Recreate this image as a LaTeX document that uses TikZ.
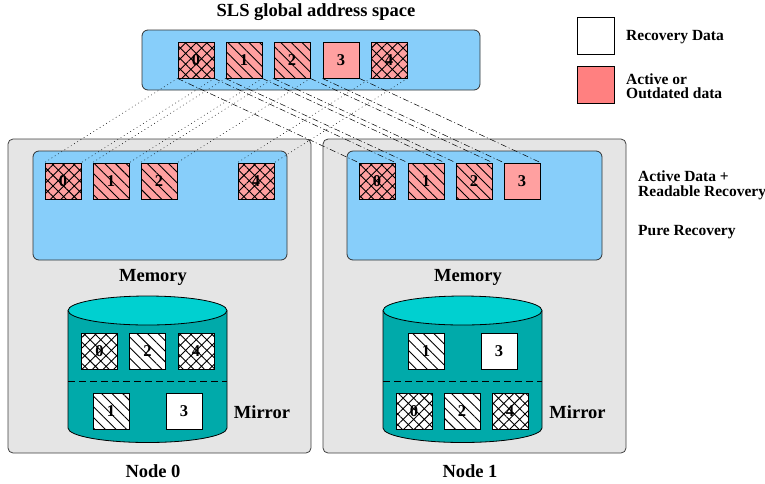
\documentclass[tikz,border=0pt]{standalone}
\usepackage{fontspec}
\setmainfont{Liberation Serif}
\usetikzlibrary{patterns.meta}
\definecolor{memblue}{RGB}{135,206,250}
\definecolor{nodegray}{RGB}{229,229,229}
\definecolor{pinkc}{RGB}{255,160,160}
\definecolor{legred}{RGB}{255,128,128}
\definecolor{cylbody}{RGB}{0,170,170}
\definecolor{cyltop}{RGB}{0,208,208}
\begin{document}
\begin{tikzpicture}[x=1pt,y=-1pt,
  blk/.style={draw=black, line width=0.9pt, minimum size=36pt, inner sep=0pt,
    font=\fontsize{16.5}{16.5}\selectfont\bfseries},
  act/.style={blk, fill=pinkc},
  rec/.style={blk, fill=white},
  xh/.style={postaction={pattern={Hatch[angle=45,distance=7.5pt,line width=0.9pt]}}},
  lh/.style={postaction={pattern={Lines[angle=-45,distance=7.5pt,line width=0.9pt]}}},
  nodebox/.style={draw=black!75, fill=nodegray, line width=0.8pt, rounded corners=5pt},
  membox/.style={draw=black!80, fill=memblue, line width=0.8pt, rounded corners=6pt},
  biglbl/.style={font=\fontsize{18.5}{20}\selectfont\bfseries, inner sep=0pt},
  leglbl/.style={font=\fontsize{15.5}{14}\selectfont\bfseries, inner sep=0pt, anchor=west, align=left},
  zlink/.style={line width=0.5pt, dash pattern=on 0.8pt off 3pt},
  olink/.style={line width=0.5pt, dash pattern=on 6pt off 2.5pt on 1pt off 2.5pt}]
\useasboundingbox (0,0) rectangle (765,483);

% title and top address space
\node[biglbl] (title) at (316,12) {SLS global address space};
\draw[membox] (142,30) rectangle (480,90);
\node[act,xh] (t0) at (196,60) {0};
\node[act,lh] (t1) at (244,60) {1};
\node[act,lh] (t2) at (292,60) {2};
\node[act]    (t3) at (341,60) {3};
\node[act,xh] (t4) at (389,60) {4};

% legend
\node[rec, minimum size=37pt] (legrec) at (595.5,35.5) {};
\node[leglbl] (legrect) at (626,37) {Recovery Data};
\node[blk, fill=legred, minimum size=37pt] (legact) at (595.5,84.5) {};
\node[leglbl] (legacta) at (626,79) {Active or};
\node[leglbl] (legactb) at (626,93) {Outdated data};

% node boxes
\draw[nodebox] (8,139) rectangle (311,453);
\draw[nodebox] (323,139) rectangle (626,453);
\draw[membox] (33,151) rectangle (287,260);
\draw[membox] (347,151) rectangle (602,260);

\node[leglbl] (adra) at (638,176.5) {Active Data +};
\node[leglbl] (adrb) at (638,192.5) {Readable Recovery};
\node[leglbl] (pure) at (638,232) {Pure Recovery};

% memory blocks node 0
\node[act,xh] (a0) at (63,181) {0};
\node[act,lh] (a1) at (111,181) {1};
\node[act,lh] (a2) at (159,181) {2};
\node[act,xh] (a4) at (256,181) {4};
% memory blocks node 1
\node[act,xh] (b0) at (377,181) {0};
\node[act,lh] (b1) at (426,181) {1};
\node[act,lh] (b2) at (474,181) {2};
\node[act]    (b3) at (522,181) {3};

\node[biglbl] (mem0) at (153,277) {Memory};
\node[biglbl] (mem1) at (468,277) {Memory};

% cylinder node 0
\fill[cylbody] (68,310.5) -- (68,428) arc[start angle=180,end angle=0,x radius=79.5,y radius=14.5] -- (227,310.5) -- cycle;
\draw[line width=0.8pt] (68,310.5) -- (68,428) arc[start angle=180,end angle=0,x radius=79.5,y radius=14.5] -- (227,310.5);
\draw[line width=0.8pt, fill=cyltop] (147.5,310.5) ellipse[x radius=79.5, y radius=14.5];
\draw[line width=0.8pt, dash pattern=on 7pt off 4pt] (68,381) -- (227,381);
% cylinder node 1
\fill[cylbody] (383,310.5) -- (383,428) arc[start angle=180,end angle=0,x radius=79.5,y radius=14.5] -- (542,310.5) -- cycle;
\draw[line width=0.8pt] (383,310.5) -- (383,428) arc[start angle=180,end angle=0,x radius=79.5,y radius=14.5] -- (542,310.5);
\draw[line width=0.8pt, fill=cyltop] (462.5,310.5) ellipse[x radius=79.5, y radius=14.5];
\draw[line width=0.8pt, dash pattern=on 7pt off 4pt] (383,381) -- (542,381);

% disk blocks node 0
\node[rec,xh] (c0) at (99.5,351) {0};
\node[rec,lh] (c2) at (147.5,351) {2};
\node[rec,xh] (c4) at (196,351) {4};
\node[rec,lh] (c1) at (111,411.5) {1};
\node[rec]    (c3) at (184,411.5) {3};
% disk blocks node 1
\node[rec,lh] (d1) at (426,351) {1};
\node[rec]    (d3) at (499,351) {3};
\node[rec,xh] (d0) at (414,411.5) {0};
\node[rec,lh] (d2) at (462,411.5) {2};
\node[rec,xh] (d4) at (510,411.5) {4};

\node[biglbl] (mir0) at (262,412) {Mirror};
\node[biglbl] (mir1) at (577.5,412) {Mirror};
\node[biglbl] (n0) at (153,471) {Node 0};
\node[biglbl] (n1) at (470,471) {Node 1};

% links to node 0
\foreach \s/\t in {t0/a0,t1/a1,t2/a2,t4/a4}{
  \draw[zlink] (\s.south west) -- (\t.north west);
  \draw[zlink] (\s.south east) -- (\t.north east);
}
% links to node 1
\foreach \s/\t in {t0/b0,t1/b1,t2/b2,t3/b3}{
  \draw[olink] (\s.south west) -- (\t.north west);
  \draw[olink] (\s.south east) -- (\t.north east);
}
\end{tikzpicture}
\end{document}
